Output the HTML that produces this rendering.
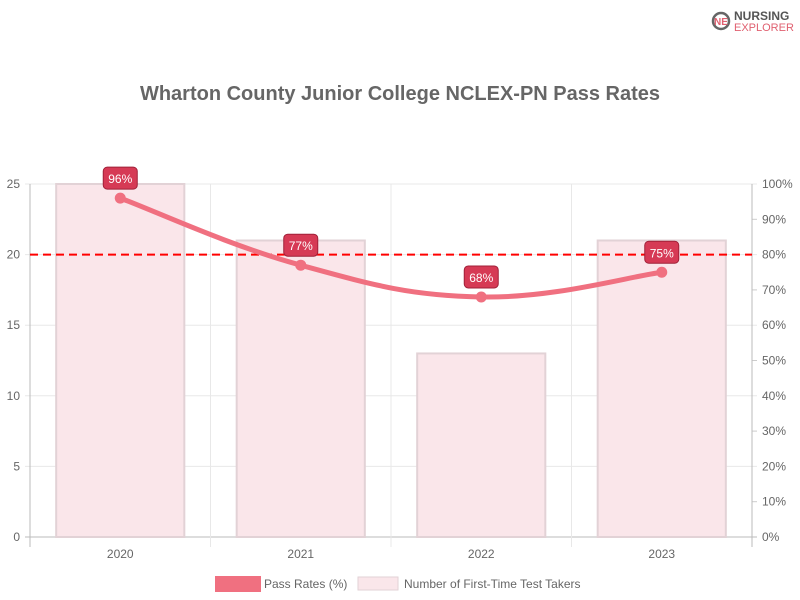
<!DOCTYPE html>
<html><head><meta charset="utf-8"><style>
body{margin:0;background:#fff;font-family:"Liberation Sans",sans-serif}
svg{display:block}
</style></head><body>
<svg id="c" width="800" height="600" font-family="Liberation Sans, sans-serif">
<g>
<circle cx="721" cy="21" r="8" fill="none" stroke="#666" stroke-width="2.5"/>
<text x="721" y="25" font-size="10" font-weight="bold" fill="#e06070" text-anchor="middle">NE</text>
<text x="734" y="20" font-size="12" font-weight="bold" fill="#555">NURSING</text>
<text x="734" y="31" font-size="11" fill="#e06070">EXPLORER</text>
</g>
<text x="400" y="100" font-size="20" font-weight="bold" fill="#666" text-anchor="middle">Wharton County Junior College NCLEX-PN Pass Rates</text>
<g id="grid"></g><g id="bars"></g><g id="line"></g><g id="labels"></g>
<g>
<rect x="215" y="576" width="46" height="16" fill="#f07080"/>
<text x="264" y="588" font-size="12" fill="#666">Pass Rates (%)</text>
<rect x="358" y="577" width="40" height="13" fill="#fae6ea" stroke="#e2d2d6"/>
<text x="404" y="588" font-size="12" fill="#666">Number of First-Time Test Takers</text>
</g>
</svg>
<script>
const categories=["2020","2021","2022","2023"];
const testTakers=[25,21,13,21];
const passRates=[96,77,68,75];
const leftTicks=[0,5,10,15,20,25];
const rightTicks=[0,10,20,30,40,50,60,70,80,90,100];
const benchmark=80;
const NS="http://www.w3.org/2000/svg";
const L=30,R=752,T=184,B=537;
const yL=v=>B-(v/25)*(B-T);
const yR=v=>B-(v/100)*(B-T);
const bw=(R-L)/categories.length;
const xC=i=>L+bw*(i+0.5);
function mk(tag,attrs,parent,text){const e=document.createElementNS(NS,tag);for(const k in attrs)e.setAttribute(k,attrs[k]);if(text!==undefined)e.textContent=text;parent.appendChild(e);return e;}
const g=document.getElementById('grid');
rightTicks.forEach(t=>{
 const y=yR(t);
 if(t%20!==0){mk('line',{x1:R,x2:R+5,y1:y,y2:y,stroke:'#ccc'},g);}
 const tx=mk('text',{x:R+10,y:y+4,'font-size':12,fill:'#666'},g,t+'%');
 
 
});
leftTicks.forEach(t=>{
 const y=yL(t);
 mk('line',{x1:L-5,x2:R+5,y1:y,y2:y,stroke:t===0?'#bbb':'#e8e8e8'},g);
 const tx=mk('text',{x:L-10,y:y+4,'font-size':12,fill:'#666','text-anchor':'end'},g,t);
 
 
});
for(let i=0;i<=categories.length;i++){const x=L+bw*i;mk('line',{x1:x,x2:x,y1:T,y2:B+10,stroke:i===0||i===categories.length?'#bbb':'#e8e8e8'},g);}
categories.forEach((c,i)=>{
 const tx=mk('text',{x:xC(i),y:B+21,'font-size':12,fill:'#666','text-anchor':'middle'},g,c);
 
 
});
const bg=document.getElementById('bars');
testTakers.forEach((v,i)=>{
 const w=bw*0.71;
 const r=mk('rect',{x:xC(i)-w/2,y:yL(v),width:w,height:B-yL(v),fill:'#fae6ea',stroke:'#e2d2d6','stroke-width':2},bg);
 
 
});
const bl=mk('line',{x1:L,x2:R,y1:yR(benchmark),y2:yR(benchmark),stroke:'#f00','stroke-width':2,'stroke-dasharray':'8,5'},bg);


const lg=document.getElementById('line');
const pts=passRates.map((v,i)=>[xC(i),yR(v)]);
let d='M'+pts[0][0]+','+pts[0][1];
const tn=0.4;
for(let i=0;i<pts.length-1;i++){
 const p0=pts[Math.max(0,i-1)],p1=pts[i],p2=pts[i+1],p3=pts[Math.min(pts.length-1,i+2)];
 const c1=[p1[0]+(p2[0]-p0[0])*tn/2,p1[1]+(p2[1]-p0[1])*tn/2];
 const c2=[p2[0]-(p3[0]-p1[0])*tn/2,p2[1]-(p3[1]-p1[1])*tn/2];
 d+=` C${c1[0]},${c1[1]} ${c2[0]},${c2[1]} ${p2[0]},${p2[1]}`;
}
const pl=mk('path',{d:d,fill:'none',stroke:'#f07080','stroke-width':5},lg);


const lb=document.getElementById('labels');
pts.forEach((p,i)=>{
 const c=mk('circle',{cx:p[0],cy:p[1],r:5.5,fill:'#f07080'},lg);
 
 
 const r=mk('rect',{x:p[0]-17,y:p[1]-31,width:34,height:22,rx:4,fill:'#d63a55',stroke:'#a02038'},lb);
 
 
 const t=mk('text',{x:p[0],y:p[1]-15,'font-size':12,fill:'#fff','text-anchor':'middle'},lb,passRates[i]+'%');
 
 
});
</script>
</body></html>
